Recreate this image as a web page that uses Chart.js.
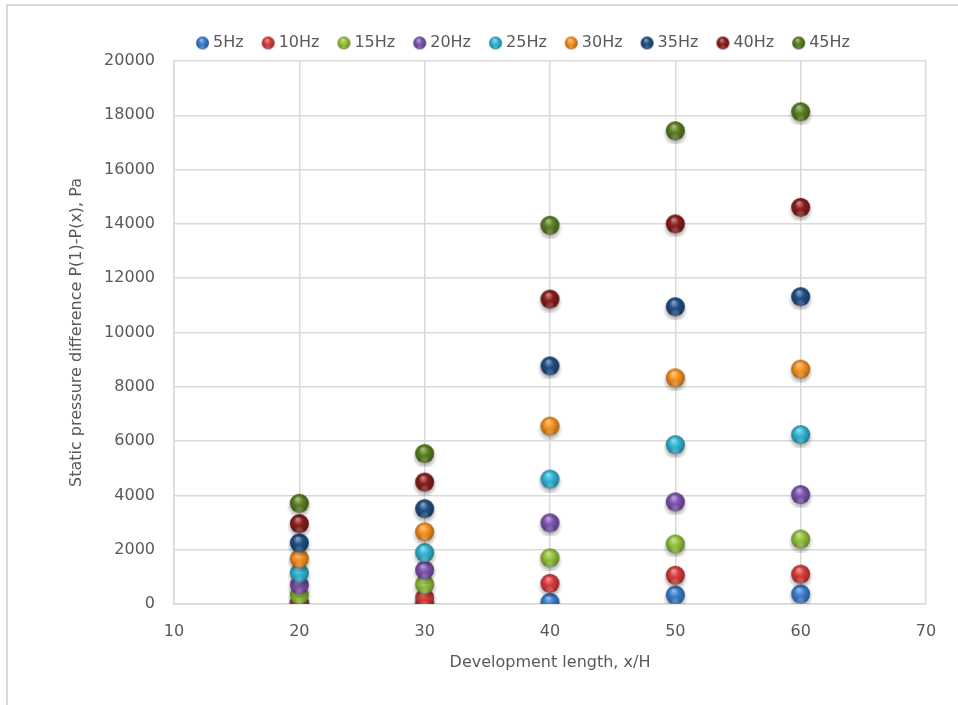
<!DOCTYPE html>
<html>
<head>
<meta charset="utf-8">
<script src="https://cdn.jsdelivr.net/npm/chart.js"></script>
<style>
  html, body { margin: 0; padding: 0; background: #fff; }
  #wrap { width: 958px; height: 705px; }
</style>
</head>
<body>
<div id="wrap"><canvas id="chart" width="958" height="705"></canvas></div>
<script>
const lengths = [20, 30, 40, 50, 60];
const hz5 = [0, 0, 60, 330, 370];
const hz10 = [30, 230, 760, 1060, 1100];
const hz15 = [330, 720, 1700, 2210, 2390];
const hz20 = [700, 1250, 2990, 3760, 4030];
const hz25 = [1140, 1890, 4600, 5870, 6240];
const hz30 = [1670, 2660, 6550, 8330, 8650];
const hz35 = [2250, 3510, 8770, 10950, 11320];
const hz40 = [2960, 4490, 11230, 14000, 14610];
const hz45 = [3710, 5540, 13950, 17430, 18130];

const seriesNames = ["5Hz", "10Hz", "15Hz", "20Hz", "25Hz", "30Hz", "35Hz", "40Hz", "45Hz"];
const seriesValues = [hz5, hz10, hz15, hz20, hz25, hz30, hz35, hz40, hz45];
const seriesColors = ["#3a7dd0", "#d93b3b", "#93c13a", "#7e52b0", "#2fb5d5", "#f7901e", "#1f4e85", "#8b1c1c", "#5a7f20"];

const textColor = "#595959";
const gridColor = "#d9d9d9";
const fontFamily = "'DejaVu Sans', sans-serif";

function mix(hex, target, t) {
  const n = parseInt(hex.slice(1), 16);
  const r = (n >> 16) & 255, g = (n >> 8) & 255, b = n & 255;
  const m = (c) => Math.round(c + (target - c) * t);
  return `rgb(${m(r)},${m(g)},${m(b)})`;
}

// glossy ball like the excel 3d marker
function sphere(color, r, withShadow) {
  const pad = withShadow ? 4 : 1;
  const size = Math.ceil(2 * (r + pad));
  const c = document.createElement("canvas");
  c.width = size;
  c.height = size;
  const ctx = c.getContext("2d");
  const cx = size / 2, cy = size / 2;
  if (withShadow) {
    const sh = ctx.createRadialGradient(cx, cy + 3, r * 0.6, cx, cy + 3, r + 3);
    sh.addColorStop(0, "rgba(0,0,0,0.35)");
    sh.addColorStop(1, "rgba(0,0,0,0)");
    ctx.fillStyle = sh;
    ctx.beginPath();
    ctx.arc(cx, cy + 3, r + 3, 0, Math.PI * 2);
    ctx.fill();
  }
  const g = ctx.createRadialGradient(cx - r * 0.2, cy - r * 0.5, r * 0.05, cx, cy, r);
  g.addColorStop(0, mix(color, 255, 0.5));
  g.addColorStop(0.45, color);
  g.addColorStop(0.85, mix(color, 0, 0.22));
  g.addColorStop(1, mix(color, 0, 0.4));
  ctx.fillStyle = g;
  ctx.beginPath();
  ctx.arc(cx, cy, r, 0, Math.PI * 2);
  ctx.fill();
  // soft reflection at the bottom
  const b = ctx.createRadialGradient(cx, cy + r * 0.75, 0, cx, cy + r * 0.75, r * 0.5);
  b.addColorStop(0, mix(color, 255, 0.3));
  b.addColorStop(1, "rgba(255,255,255,0)");
  ctx.globalAlpha = 0.5;
  ctx.fillStyle = b;
  ctx.beginPath();
  ctx.arc(cx, cy, r, 0, Math.PI * 2);
  ctx.fill();
  return c;
}

const plotBalls = seriesColors.map((c) => sphere(c, 9.5, true));
const legendBalls = seriesColors.map((c) => sphere(c, 6.5, false));

const datasets = seriesNames.map((name, i) => ({
  label: name,
  data: lengths.map((x, j) => ({ x, y: seriesValues[i][j] })),
  pointStyle: plotBalls[i],
  backgroundColor: seriesColors[i],
  borderColor: seriesColors[i],
  showLine: false,
  order: seriesNames.length - i, // later series on top, like excel
}));

const framePlugin = {
  id: "frame",
  beforeDraw(chart) {
    const { ctx } = chart;
    ctx.save();
    ctx.fillStyle = "#fff";
    ctx.fillRect(0, 0, chart.width, chart.height);
    ctx.strokeStyle = gridColor;
    ctx.lineWidth = 2;
    ctx.strokeRect(7, 5, chart.width + 20, chart.height + 20);
    ctx.restore();
  },
  afterLayout(chart) {
    // legend sits a bit right of the canvas centre
    chart.legend.left += 37;
    chart.legend.right += 37;
  },
};

new Chart(document.getElementById("chart"), {
  type: "scatter",
  data: { datasets },
  plugins: [framePlugin],
  options: {
    responsive: false,
    animation: false,
    layout: { padding: { top: 13, left: 50, right: 32, bottom: 20 } },
    plugins: {
      tooltip: { enabled: false },
      legend: {
        position: "top",
        labels: {
          usePointStyle: true,
          boxWidth: 5,
          boxHeight: 13,
          padding: 22,
          color: textColor,
          font: { family: fontFamily, size: 16 },
          sort: (a, b) => a.datasetIndex - b.datasetIndex,
          generateLabels(chart) {
            const items = Chart.defaults.plugins.legend.labels.generateLabels(chart);
            items.forEach((it) => { it.pointStyle = legendBalls[it.datasetIndex]; });
            return items;
          },
        },
      },
    },
    scales: {
      x: {
        type: "linear",
        min: 10,
        max: 70,
        afterFit: (scale) => { scale.height = 81; },
        ticks: { stepSize: 10, padding: 18, color: textColor, font: { family: fontFamily, size: 16 } },
        grid: { color: gridColor, lineWidth: 1.5, drawTicks: false },
        border: { color: gridColor, width: 1.5 },
        title: {
          display: true,
          text: "Development length, x/H",
          color: textColor,
          font: { family: fontFamily, size: 16 },
          padding: 13,
        },
      },
      y: {
        min: 0,
        max: 20000,
        afterFit: (scale) => { scale.width = 124; },
        ticks: {
          stepSize: 2000,
          padding: 19,
          color: textColor,
          font: { family: fontFamily, size: 16 },
          callback: (v) => String(v),
        },
        grid: { color: gridColor, lineWidth: 1.5, drawTicks: false },
        border: { color: gridColor, width: 1.5 },
        title: {
          display: true,
          text: "Static pressure difference P(1)-P(x), Pa",
          color: textColor,
          font: { family: fontFamily, size: 16 },
          padding: 17,
        },
      },
    },
  },
});
</script>
</body>
</html>
